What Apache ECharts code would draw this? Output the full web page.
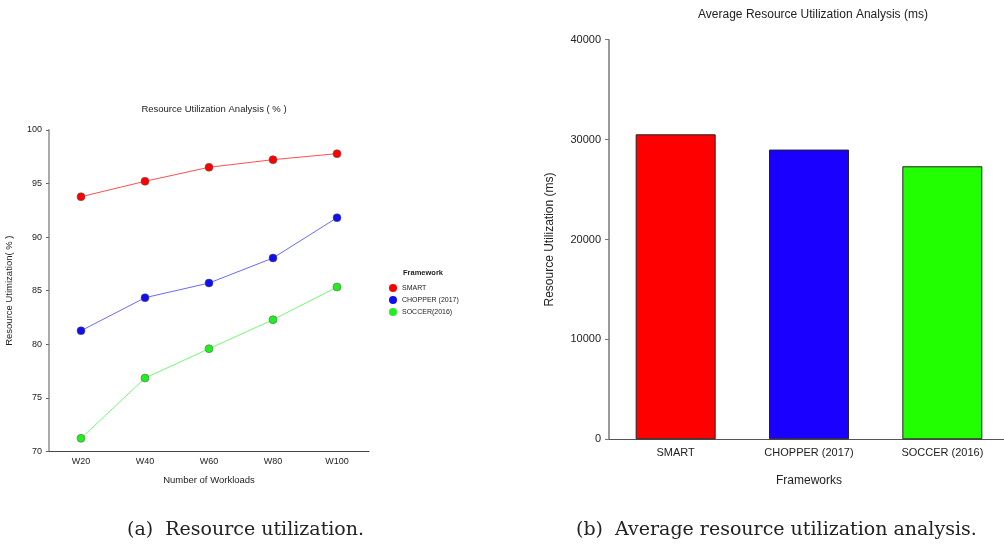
<!DOCTYPE html>
<html>
<head>
<meta charset="utf-8">
<script src="https://cdn.jsdelivr.net/npm/echarts@6/dist/echarts.min.js"></script>
<style>
  html, body { margin: 0; padding: 0; background: #fff; overflow: hidden; }
  #chart { width: 1010px; height: 546px; }
</style>
</head>
<body>
<div id="chart"></div>
<script>
  // (a) line chart data
  var workloads = ['W20', 'W40', 'W60', 'W80', 'W100'];
  var smartUtil = [93.77, 95.21, 96.52, 97.23, 97.79];
  var chopperUtil = [81.26, 84.34, 85.71, 88.05, 91.81];
  var soccerUtil = [71.21, 76.84, 79.58, 82.29, 85.34];

  // (b) bar chart data
  var frameworks = ['SMART', 'CHOPPER (2017)', 'SOCCER (2016)'];
  var avgUtil = [30530, 29000, 27330];
  var barColors = ['#ff0000', '#1a00ff', '#22ff00'];

  var font = 'Liberation Sans, Arial, sans-serif';
  var chart = echarts.init(document.getElementById('chart'));

  function lineSeries(name, data, lineColor, dotColor) {
    return {
      name: name,
      type: 'line',
      xAxisIndex: 0,
      yAxisIndex: 0,
      data: data,
      symbol: 'circle',
      symbolSize: 8,
      lineStyle: { color: lineColor, width: 1 },
      itemStyle: { color: dotColor, borderColor: '#555', borderWidth: 0.5 },
      z: 3
    };
  }

  var option = {
    animation: false,
    backgroundColor: '#fff',
    textStyle: { fontFamily: font },
    title: [
      {
        text: 'Resource Utilization Analysis ( % )',
        left: 209, top: 99, textAlign: 'center',
        textStyle: { fontSize: 9.5, fontWeight: 'normal', color: '#222', fontFamily: font }
      },
      {
        text: 'Average Resource Utilization Analysis (ms)',
        left: 808, top: 4, textAlign: 'center',
        textStyle: { fontSize: 12, fontWeight: 'normal', color: '#222', fontFamily: font }
      }
    ],
    legend: {
      orient: 'vertical',
      left: 389, top: 284, padding: 0,
      itemWidth: 8, itemHeight: 8, itemGap: 4,
      icon: 'circle',
      data: ['SMART', 'CHOPPER (2017)', 'SOCCER(2016)'],
      itemStyle: { borderWidth: 0 },
      textStyle: { fontSize: 7, color: '#222', fontFamily: font }
    },
    graphic: [
      { type: 'text', left: 403, top: 269,
        style: { text: 'Framework', font: 'bold 7.5px ' + font, fill: '#222' } },
      { type: 'text', left: 127, top: 521,
        style: { text: '(a)  Resource utilization.', font: '19px "DejaVu Serif", serif', fill: '#222' } },
      { type: 'text', left: 576, top: 521,
        style: { text: '(b)  Average resource utilization analysis.', font: '19px "DejaVu Serif", serif', fill: '#222' } }
    ],
    grid: [
      { left: 49, top: 130, width: 320, height: 321.3 },
      { left: 609, top: 39.7, width: 400, height: 399.6 }
    ],
    xAxis: [
      {
        gridIndex: 0, type: 'category', data: workloads, boundaryGap: true,
        name: 'Number of Workloads', nameLocation: 'middle', nameGap: 24,
        nameTextStyle: { fontSize: 9.5, color: '#222', fontFamily: font },
        axisLine: { lineStyle: { color: '#444', width: 1 } },
        axisTick: { alignWithLabel: true, length: 3, lineStyle: { color: '#444' } },
        axisLabel: { fontSize: 9, color: '#222', margin: 6, fontFamily: font },
        splitLine: { show: false }
      },
      {
        gridIndex: 1, type: 'category', data: frameworks, boundaryGap: true,
        name: 'Frameworks', nameLocation: 'middle', nameGap: 35,
        nameTextStyle: { fontSize: 12, color: '#222', fontFamily: font },
        axisLine: { lineStyle: { color: '#555', width: 1 } },
        axisTick: { alignWithLabel: true, length: 5, lineStyle: { color: '#555' } },
        axisLabel: { fontSize: 11, color: '#222', margin: 8, fontFamily: font },
        splitLine: { show: false }
      }
    ],
    yAxis: [
      {
        gridIndex: 0, type: 'value', min: 70, max: 100, interval: 5,
        name: 'Resource Utimization( % )', nameLocation: 'middle', nameGap: 35,
        nameTextStyle: { fontSize: 9.5, color: '#222', fontFamily: font },
        axisLine: { show: true, lineStyle: { color: '#aaa', width: 2 } },
        axisTick: { show: true, length: 3, lineStyle: { color: '#666' } },
        axisLabel: { fontSize: 9, color: '#222', margin: 7, fontFamily: font },
        splitLine: { show: false }
      },
      {
        gridIndex: 1, type: 'value', min: 0, max: 40000, interval: 10000,
        name: 'Resource Utilization (ms)', nameLocation: 'middle', nameGap: 53,
        nameTextStyle: { fontSize: 12, color: '#222', fontFamily: font },
        axisLine: { show: true, lineStyle: { color: '#777', width: 1.5 } },
        axisTick: { show: true, length: 4, lineStyle: { color: '#777' } },
        axisLabel: { fontSize: 11, color: '#222', margin: 8, fontFamily: font,
          formatter: function (v) { return String(v); } },
        splitLine: { show: false }
      }
    ],
    series: [
      lineSeries('SMART', smartUtil, '#ff5050', '#ff0000'),
      lineSeries('CHOPPER (2017)', chopperUtil, '#6a6aff', '#1010ee'),
      lineSeries('SOCCER(2016)', soccerUtil, '#70ff70', '#22ee22'),
      {
        type: 'bar',
        xAxisIndex: 1,
        yAxisIndex: 1,
        barWidth: 80,
        data: avgUtil.map(function (v, i) {
          return { value: v, itemStyle: { color: barColors[i] } };
        }),
        itemStyle: { borderColor: '#222', borderWidth: 1 }
      }
    ]
  };

  chart.setOption(option);
</script>
</body>
</html>
